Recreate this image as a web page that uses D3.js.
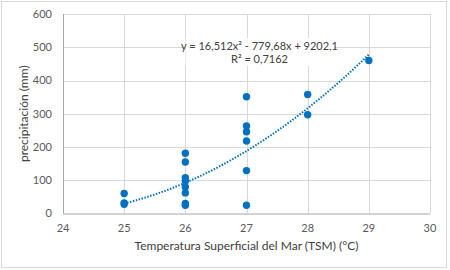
<!DOCTYPE html>
<meta charset="utf-8">
<style>
    body { margin: 0; background: #fff; }
    text { font-family: Lato, "Open Sans", sans-serif; fill: #595959; }
    .grid line { stroke: #d9d9d9; stroke-width: 1; }
    .trend { fill: none; stroke: #0070c0; stroke-width: 2; stroke-dasharray: 1.5 1.5; }
</style>
<svg width="450" height="270"></svg>
<script src="https://d3js.org/d3.v7.min.js"></script>
<script>

    // observations: sea surface temperature vs precipitation
    var tsm = [25, 25, 25,
        26, 26, 26, 26, 26, 26, 26, 26,
        27, 27, 27, 27, 27, 27,
        28, 28,
        29];
    var precip = [60, 32, 28,
        181, 155, 108, 98, 80, 62, 30, 25,
        351, 263, 246, 218, 129, 25,
        358, 297,
        460];

    // polynomial trend line coefficients (order 2)
    var coef = [16.512, -779.68, 9202.1];
    var xTicks = [24, 25, 26, 27, 28, 29, 30];
    var yTicks = [0, 100, 200, 300, 400, 500, 600];
    var eqText = "y = 16,512x² - 779,68x + 9202,1";
    var r2Text = "R² = 0,7162";

    var svg = d3.select("svg"),
        margin = { top: 14, right: 20, bottom: 56.5, left: 63 },
        width = +svg.attr("width") - margin.left - margin.right,
        height = +svg.attr("height") - margin.top - margin.bottom;

    // chart border
    svg.append("rect")
        .attr("x", 1.5).attr("y", 1.5)
        .attr("width", 445).attr("height", 266)
        .attr("fill", "#fff")
        .attr("stroke", "#d9d9d9");

    var g = svg.append("g").attr("transform", "translate(" + margin.left + "," + margin.top + ")");

    var x = d3.scaleLinear().domain([24, 30]).range([0, width]);
    var y = d3.scaleLinear().domain([0, 600]).range([height, 0]);

    // gridlines
    g.append("g").attr("class", "grid")
        .selectAll("line").data(yTicks.slice(1)).join("line")
        .attr("x1", 0).attr("x2", width)
        .attr("y1", d => Math.round(y(d)) + 0.5).attr("y2", d => Math.round(y(d)) + 0.5);

    g.append("g").attr("class", "grid")
        .selectAll("line").data(xTicks.slice(1)).join("line")
        .attr("y1", 0).attr("y2", height)
        .attr("x1", d => Math.round(x(d)) + 0.5).attr("x2", d => Math.round(x(d)) + 0.5);

    // axes lines
    g.append("line")
        .attr("x1", 0.5).attr("x2", 0.5).attr("y1", 0).attr("y2", height)
        .attr("stroke", "#a6a6a6");
    g.append("line")
        .attr("x1", 0).attr("x2", width).attr("y1", height + 0.5).attr("y2", height + 0.5)
        .attr("stroke", "#a6a6a6");

    // tick labels
    g.append("g").selectAll("text").data(yTicks).join("text")
        .attr("x", -11).attr("y", d => y(d))
        .attr("dy", "0.35em")
        .attr("text-anchor", "end")
        .attr("font-size", 11)
        .text(d => d);

    g.append("g").selectAll("text").data(xTicks).join("text")
        .attr("x", d => x(d)).attr("y", height + 15)
        .attr("dy", "0.35em")
        .attr("text-anchor", "middle")
        .attr("font-size", 11)
        .text(d => d);

    // axis titles
    g.append("text")
        .attr("x", x(27)).attr("y", height + 32)
        .attr("dy", "0.35em")
        .attr("text-anchor", "middle")
        .attr("font-size", 12)
        .attr("fill", "#404040")
        .style("fill", "#404040")
        .text("Temperatura Superficial del Mar (TSM) (°C)");

    g.append("text")
        .attr("transform", "translate(-39," + (height / 2) + ") rotate(-90)")
        .attr("dy", "0.35em")
        .attr("text-anchor", "middle")
        .attr("font-size", 12)
        .style("fill", "#404040")
        .text("precipitación (mm)");

    // trend line
    var xs = d3.range(25, 29.001, 0.05);
    var line = d3.line()
        .x(d => x(d))
        .y(d => y(coef[0] * d * d + coef[1] * d + coef[2]));
    g.append("path")
        .datum(xs)
        .attr("class", "trend")
        .attr("d", line);

    // points
    g.append("g").selectAll("circle").data(tsm).join("circle")
        .attr("cx", d => x(d))
        .attr("cy", (d, i) => y(precip[i]))
        .attr("r", 3.7)
        .attr("fill", "#0070c0");

    // equation label
    var lab = g.append("g").attr("transform", "translate(" + (259.5 - margin.left) + "," + (38 - margin.top) + ")");
    lab.append("rect")
        .attr("x", -74).attr("y", 0)
        .attr("width", 149).attr("height", 28)
        .attr("fill", "#fff");
    lab.append("text")
        .attr("y", 8).attr("dy", "0.35em")
        .attr("text-anchor", "middle")
        .attr("font-size", 11)
        .style("fill", "#404040")
        .text(eqText);
    lab.append("text")
        .attr("y", 21).attr("dy", "0.35em")
        .attr("text-anchor", "middle")
        .attr("font-size", 11)
        .style("fill", "#404040")
        .text(r2Text);

</script>
